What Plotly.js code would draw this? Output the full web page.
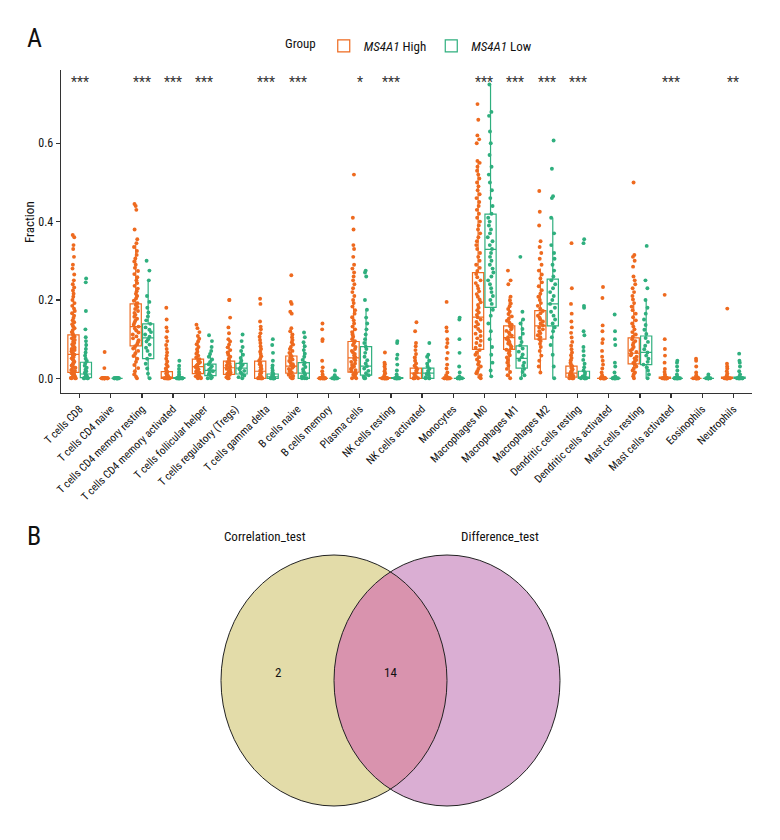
<!DOCTYPE html>
<html>
<head>
<meta charset="utf-8">
<script src="https://cdn.plot.ly/plotly-3.0.1.min.js"></script>
<style>
  html, body { margin: 0; padding: 0; background: #fff; }
  #chart { width: 780px; height: 840px; }
</style>
</head>
<body>
<div id="chart"></div>
<script>
// ---------------- DATA ----------------
const categories = ['T cells CD8','T cells CD4 naive','T cells CD4 memory resting','T cells CD4 memory activated',
  'T cells follicular helper','T cells regulatory (Tregs)','T cells gamma delta','B cells naive','B cells memory',
  'Plasma cells','NK cells resting','NK cells activated','Monocytes','Macrophages M0','Macrophages M1',
  'Macrophages M2','Dendritic cells resting','Dendritic cells activated','Mast cells resting',
  'Mast cells activated','Eosinophils','Neutrophils'];

const sigLabels = ['***','','***','***','***','','***','***','','*','***','','','***','***','***','***','','','***','','**'];

const groupNames = ['<i>MS4A1</i> High', '<i>MS4A1</i> Low'];

const highQ1     = [0.015,0,0.083,0,0.012,0.010,0,0.013,0,0.016,0,0,0,0.074,0.074,0.100,0.003,0,0.037,0,0,0];
const highMedian = [0.061,0,0.132,0.003,0.030,0.027,0.018,0.031,0,0.052,0,0.013,0,0.156,0.104,0.134,0.013,0,0.064,0,0,0];
const highQ3     = [0.111,0,0.190,0.017,0.049,0.044,0.044,0.057,0,0.094,0.002,0.026,0,0.270,0.134,0.173,0.031,0,0.103,0.003,0,0.003];
const highLower  = [0,0,0,0,0,0,0,0,0,0,0,0,0,0,0,0.015,0,0,0,0,0,0];
const highUpper  = [0.245,0,0.34,0.036,0.10,0.091,0.105,0.122,0,0.20,0.005,0.062,0,0.555,0.208,0.28,0.064,0,0.196,0.005,0,0.003];

const lowQ1     = [0.002,0,0.050,0,0.007,0.011,0,0,0,0.008,0,0,0,0.181,0.026,0.134,0,0,0.035,0,0,0];
const lowMedian = [0.011,0,0.103,0,0.020,0.026,0.004,0.013,0,0.031,0,0.013,0,0.329,0.051,0.190,0.003,0,0.066,0,0,0];
const lowQ3     = [0.041,0,0.139,0.002,0.036,0.038,0.011,0.040,0,0.081,0.002,0.026,0,0.419,0.083,0.253,0.018,0,0.108,0,0,0.003];
const lowLower  = [0,0,0,0,0,0,0,0,0,0,0,0,0,0.005,0,0,0,0,0,0,0,0];
const lowUpper  = [0.095,0,0.25,0.005,0.07,0.07,0.026,0.092,0,0.175,0.004,0.06,0,0.75,0.15,0.41,0.037,0,0.20,0,0,0.004];

const highPoints = [
  [0,0,0,0.001,0.003,0.005,0.007,0.009,0.011,0.013,0.015,0.017,0.019,0.021,0.024,0.027,0.03,0.033,0.036,0.039,0.042,0.045,0.048,0.051,0.054,0.057,0.06,0.063,0.066,0.069,0.072,0.075,0.078,0.081,0.084,0.087,0.09,0.094,0.098,0.102,0.106,0.11,0.114,0.118,0.123,0.128,0.133,0.138,0.143,0.148,0.154,0.16,0.166,0.172,0.178,0.185,0.192,0.2,0.208,0.216,0.224,0.232,0.24,0.25,0.265,0.28,0.29,0.31,0.33,0.34,0.36,0.366],
  [0,0,0,0,0,0,0,0,0,0,0,0,0,0,0.001,0.026,0.067],
  [0,0.004,0.01,0.018,0.026,0.034,0.042,0.05,0.057,0.064,0.07,0.076,0.082,0.087,0.092,0.097,0.102,0.107,0.112,0.117,0.122,0.127,0.132,0.137,0.142,0.147,0.152,0.157,0.162,0.167,0.172,0.177,0.182,0.187,0.192,0.198,0.204,0.21,0.216,0.222,0.229,0.236,0.243,0.25,0.258,0.266,0.274,0.282,0.29,0.298,0.306,0.315,0.325,0.335,0.345,0.355,0.38,0.43,0.44,0.445],
  [0,0,0,0,0,0,0,0,0,0,0,0.002,0.004,0.006,0.009,0.012,0.016,0.02,0.025,0.03,0.036,0.043,0.05,0.058,0.066,0.075,0.085,0.095,0.105,0.12,0.13,0.15,0.18],
  [0,0,0.002,0.005,0.008,0.011,0.014,0.017,0.02,0.023,0.026,0.029,0.032,0.035,0.038,0.041,0.045,0.049,0.053,0.058,0.063,0.068,0.074,0.08,0.087,0.094,0.101,0.108,0.118,0.128,0.137],
  [0,0,0.003,0.006,0.009,0.012,0.015,0.018,0.021,0.024,0.027,0.03,0.033,0.037,0.041,0.045,0.05,0.055,0.06,0.066,0.072,0.079,0.086,0.094,0.1,0.115,0.13,0.155,0.2,0.2],
  [0,0,0,0,0,0,0.002,0.005,0.008,0.011,0.014,0.017,0.02,0.024,0.028,0.032,0.036,0.04,0.045,0.05,0.056,0.062,0.068,0.075,0.082,0.09,0.098,0.106,0.115,0.125,0.132,0.145,0.19,0.203],
  [0,0,0.003,0.006,0.009,0.012,0.015,0.018,0.021,0.024,0.027,0.03,0.033,0.036,0.04,0.044,0.048,0.052,0.056,0.06,0.065,0.07,0.075,0.08,0.086,0.092,0.098,0.105,0.112,0.12,0.128,0.165,0.17,0.19,0.195,0.263],
  [0,0,0,0,0,0,0,0,0,0,0,0,0,0,0.002,0.005,0.01,0.018,0.028,0.045,0.095,0.1,0.125,0.14],
  [0,0,0.003,0.006,0.009,0.012,0.015,0.018,0.021,0.024,0.027,0.03,0.034,0.038,0.042,0.046,0.05,0.054,0.058,0.062,0.066,0.07,0.075,0.08,0.085,0.09,0.095,0.1,0.106,0.112,0.118,0.125,0.132,0.14,0.148,0.156,0.165,0.174,0.183,0.192,0.2,0.21,0.22,0.23,0.24,0.25,0.26,0.27,0.28,0.29,0.31,0.33,0.34,0.38,0.41,0.52],
  [0,0,0,0,0,0,0,0,0,0,0,0,0,0,0.002,0.005,0.009,0.013,0.018,0.024,0.03,0.036,0.04,0.066],
  [0,0,0,0,0.003,0.007,0.011,0.015,0.019,0.023,0.027,0.032,0.038,0.045,0.053,0.062,0.072,0.082,0.09,0.12,0.143],
  [0,0,0,0,0,0,0,0,0,0,0,0,0.003,0.008,0.015,0.025,0.035,0.05,0.065,0.08,0.09,0.1,0.12,0.13,0.195],
  [0,0.003,0.008,0.013,0.018,0.024,0.03,0.036,0.042,0.048,0.054,0.06,0.066,0.072,0.078,0.084,0.09,0.096,0.102,0.108,0.114,0.12,0.126,0.132,0.138,0.144,0.15,0.156,0.162,0.168,0.174,0.18,0.187,0.194,0.201,0.208,0.215,0.222,0.229,0.236,0.243,0.25,0.258,0.266,0.274,0.282,0.29,0.3,0.31,0.32,0.33,0.34,0.35,0.36,0.37,0.38,0.39,0.4,0.41,0.42,0.43,0.44,0.45,0.46,0.47,0.48,0.49,0.5,0.51,0.52,0.53,0.54,0.55,0.555,0.6,0.61,0.62,0.66,0.7],
  [0,0.008,0.016,0.024,0.032,0.04,0.047,0.053,0.059,0.064,0.069,0.073,0.077,0.081,0.085,0.089,0.093,0.097,0.101,0.105,0.109,0.113,0.117,0.121,0.125,0.129,0.133,0.137,0.142,0.147,0.152,0.158,0.164,0.17,0.177,0.184,0.191,0.199,0.208,0.24,0.25,0.275],
  [0.015,0.03,0.045,0.058,0.07,0.08,0.088,0.095,0.1,0.105,0.11,0.115,0.12,0.125,0.13,0.135,0.14,0.145,0.15,0.155,0.16,0.166,0.172,0.178,0.185,0.192,0.2,0.208,0.216,0.225,0.235,0.245,0.255,0.265,0.275,0.29,0.305,0.32,0.335,0.35,0.39,0.425,0.478],
  [0,0,0,0,0.002,0.004,0.006,0.008,0.01,0.012,0.014,0.017,0.02,0.023,0.027,0.031,0.035,0.04,0.046,0.052,0.059,0.066,0.074,0.083,0.093,0.104,0.116,0.13,0.145,0.165,0.19,0.23,0.345],
  [0,0,0,0,0,0,0,0,0,0,0,0,0.003,0.008,0.015,0.025,0.035,0.045,0.055,0.07,0.09,0.1,0.12,0.135,0.205,0.233],
  [0,0.005,0.01,0.015,0.02,0.025,0.03,0.035,0.039,0.043,0.047,0.051,0.055,0.059,0.063,0.067,0.071,0.075,0.08,0.085,0.09,0.095,0.1,0.106,0.112,0.118,0.125,0.132,0.14,0.148,0.156,0.165,0.174,0.183,0.192,0.201,0.21,0.22,0.23,0.24,0.25,0.26,0.285,0.3,0.31,0.315,0.5],
  [0,0,0,0,0,0,0,0,0,0,0,0,0,0,0.002,0.005,0.01,0.016,0.024,0.04,0.058,0.075,0.1,0.213],
  [0,0,0,0,0,0,0,0,0,0,0,0,0.003,0.008,0.015,0.03,0.045,0.05],
  [0,0,0,0,0,0,0,0,0,0,0,0,0.003,0.007,0.012,0.018,0.025,0.03,0.037,0.178]
];

const lowPoints = [
  [0,0,0,0,0.002,0.004,0.006,0.008,0.011,0.014,0.018,0.022,0.027,0.032,0.038,0.044,0.05,0.058,0.066,0.075,0.085,0.095,0.105,0.125,0.172,0.245,0.255],
  [0,0,0,0,0,0,0,0,0,0,0,0,0.001],
  [0,0.012,0.025,0.037,0.05,0.06,0.07,0.078,0.086,0.094,0.1,0.106,0.112,0.118,0.124,0.13,0.139,0.148,0.158,0.168,0.18,0.195,0.21,0.25,0.275,0.3],
  [0,0,0,0,0,0,0,0,0,0,0,0,0,0,0.002,0.005,0.01,0.016,0.024,0.032,0.045],
  [0,0,0.003,0.007,0.01,0.014,0.018,0.022,0.026,0.031,0.036,0.042,0.048,0.055,0.062,0.07,0.08,0.095,0.11],
  [0,0.003,0.007,0.011,0.015,0.019,0.023,0.027,0.031,0.035,0.039,0.045,0.052,0.06,0.07,0.08,0.095,0.112],
  [0,0,0,0,0,0,0,0,0.002,0.004,0.007,0.011,0.015,0.02,0.026,0.033,0.045,0.065,0.085,0.1],
  [0,0,0,0.002,0.005,0.009,0.013,0.018,0.023,0.029,0.035,0.04,0.047,0.055,0.063,0.072,0.082,0.092,0.105,0.117],
  [0,0,0,0,0,0,0,0,0,0,0,0,0.003,0.008,0.02],
  [0,0,0.004,0.008,0.013,0.019,0.025,0.031,0.038,0.046,0.055,0.065,0.075,0.081,0.09,0.1,0.112,0.125,0.14,0.155,0.175,0.2,0.26,0.27,0.275],
  [0,0,0,0,0,0,0,0,0,0,0.004,0.01,0.02,0.035,0.05,0.06,0.09,0.095],
  [0,0,0,0.003,0.007,0.011,0.015,0.019,0.024,0.03,0.037,0.045,0.055,0.06,0.09],
  [0,0,0,0,0,0,0,0,0,0,0.005,0.015,0.03,0.065,0.1,0.15,0.155],
  [0.005,0.02,0.04,0.06,0.08,0.1,0.12,0.14,0.16,0.175,0.19,0.2,0.21,0.22,0.23,0.24,0.25,0.26,0.27,0.28,0.29,0.3,0.31,0.32,0.33,0.34,0.35,0.36,0.37,0.38,0.39,0.4,0.41,0.42,0.44,0.46,0.48,0.5,0.52,0.54,0.57,0.6,0.63,0.67,0.68,0.75],
  [0,0.008,0.016,0.024,0.032,0.04,0.047,0.054,0.061,0.068,0.076,0.084,0.093,0.103,0.114,0.126,0.14,0.15,0.17,0.31],
  [0,0.03,0.06,0.085,0.105,0.12,0.13,0.14,0.15,0.16,0.17,0.18,0.19,0.2,0.21,0.22,0.23,0.24,0.25,0.26,0.275,0.29,0.305,0.32,0.34,0.37,0.41,0.46,0.465,0.535,0.607],
  [0,0,0,0,0,0,0.002,0.005,0.009,0.014,0.02,0.028,0.037,0.047,0.058,0.07,0.08,0.11,0.12,0.18,0.185,0.345,0.355],
  [0,0,0,0,0,0,0,0,0,0,0.005,0.015,0.03,0.04,0.085,0.1,0.12,0.163],
  [0,0.01,0.02,0.028,0.035,0.042,0.05,0.058,0.066,0.074,0.083,0.093,0.103,0.113,0.124,0.136,0.15,0.165,0.18,0.2,0.23,0.25,0.338],
  [0,0,0,0,0,0,0,0,0,0,0,0,0.004,0.01,0.02,0.03,0.04,0.045],
  [0,0,0,0,0,0,0,0,0,0,0.004,0.01],
  [0,0,0,0,0,0,0,0,0,0,0.004,0.01,0.018,0.03,0.04,0.045,0.063]
];

const vennSetNames = ['Correlation_test', 'Difference_test'];
const vennOnlyFirst = 2;
const vennBoth = 14;

// ---------------- STYLE ----------------
const FONT = '"Roboto Condensed", "DejaVu Sans Condensed", sans-serif';
const colHigh = '#EE6A1F';
const colLow = '#2FAF7E';
const axisCol = '#333333';
const textCol = '#111111';

function flatten(pointsArr) {
  const xs = [], ys = [];
  pointsArr.forEach((vals, i) => vals.forEach(v => { xs.push(categories[i]); ys.push(v); }));
  return {xs, ys};
}

function statBox(name, color, q1, med, q3, lo, hi, group) {
  return {
    type: 'box', name: name, x: categories,
    q1: q1, median: med, q3: q3, lowerfence: lo, upperfence: hi,
    boxpoints: false, offsetgroup: group, xaxis: 'x', yaxis: 'y',
    line: {color: color, width: 1.2}, fillcolor: 'rgba(255,255,255,0)',
    whiskerwidth: 0, hoverinfo: 'skip', legendgroup: group
  };
}

function pointBox(name, color, pts, group) {
  const f = flatten(pts);
  return {
    type: 'box', name: name, x: f.xs, y: f.ys,
    boxpoints: 'all', jitter: 0.55, pointpos: 0, offsetgroup: group, xaxis: 'x', yaxis: 'y',
    line: {color: 'rgba(0,0,0,0)', width: 0}, fillcolor: 'rgba(0,0,0,0)',
    marker: {color: color, size: 3.9, opacity: 1},
    whiskerwidth: 0, hoverinfo: 'skip', showlegend: false, legendgroup: group
  };
}

const traces = [
  pointBox(groupNames[0], colHigh, highPoints, 'high'),
  pointBox(groupNames[1], colLow, lowPoints, 'low'),
  statBox(groupNames[0], colHigh, highQ1, highMedian, highQ3, highLower, highUpper, 'high'),
  statBox(groupNames[1], colLow, lowQ1, lowMedian, lowQ3, lowLower, lowUpper, 'low')
];

const W = 780, H = 840;
const mL = 61, mR = 28, mT = 70, mB = 10;
const plotH = H - mT - mB;
const plotBottomPx = 393;
const vennTopPx = 540;
const pyToPaper = py => (H - mB - py) / plotH;
const pxToPaper = px => (px - mL) / (W - mL - mR);

const annotations = [];
categories.forEach((c, i) => {
  if (sigLabels[i]) {
    annotations.push({x: c, y: 0.757, xref: 'x', yref: 'y', text: sigLabels[i], showarrow: false,
      font: {family: FONT, size: 14, color: '#333'}, xanchor: 'center', yanchor: 'middle'});
  }
});
annotations.push({x: pxToPaper(34), y: pyToPaper(38), xref: 'paper', yref: 'paper', text: 'A',
  showarrow: false, font: {family: FONT, size: 26, color: textCol}, xanchor: 'center', yanchor: 'middle'});
annotations.push({x: pxToPaper(34), y: pyToPaper(536), xref: 'paper', yref: 'paper', text: 'B',
  showarrow: false, font: {family: FONT, size: 26, color: textCol}, xanchor: 'center', yanchor: 'middle'});
annotations.push({x: pxToPaper(30), y: pyToPaper(222), xref: 'paper', yref: 'paper', text: 'Fraction',
  textangle: -90, showarrow: false, font: {family: FONT, size: 13, color: textCol}, xanchor: 'center', yanchor: 'middle'});

// Venn geometry (venn axes units = pixels)
const vCy = 680.5, vRx = 113, vRy = 125.5;
const vCxL = 334, vCxR = vCxL + vRx;

function ellipseArc(cx, cy, rx, ry, a1, a2, nSeg, start) {
  let d = '';
  const step = (a2 - a1) / nSeg;
  const k = 4 / 3 * Math.tan(step / 4);
  for (let s = 0; s < nSeg; s++) {
    const t1 = a1 + s * step, t2 = t1 + step;
    const p0 = [Math.cos(t1), Math.sin(t1)], p3 = [Math.cos(t2), Math.sin(t2)];
    const p1 = [p0[0] - k * Math.sin(t1), p0[1] + k * Math.cos(t1)];
    const p2 = [p3[0] + k * Math.sin(t2), p3[1] - k * Math.cos(t2)];
    const m = p => (cx + rx * p[0]).toFixed(2) + ',' + (cy + ry * p[1]).toFixed(2);
    if (s === 0 && start) d += 'M' + m(p0) + ' ';
    d += 'C' + m(p1) + ' ' + m(p2) + ' ' + m(p3) + ' ';
  }
  return d;
}
const ang = Math.PI / 3;
const lensPath = ellipseArc(vCxL, vCy, vRx, vRy, -ang, ang, 2, true) +
                 ellipseArc(vCxR, vCy, vRx, vRy, Math.PI - ang, Math.PI + ang, 2, false) + 'Z';

const shapes = [
  {type: 'circle', xref: 'x2', yref: 'y2', x0: vCxL - vRx, x1: vCxL + vRx, y0: vCy - vRy, y1: vCy + vRy,
    fillcolor: '#E3DCA9', line: {width: 0}},
  {type: 'circle', xref: 'x2', yref: 'y2', x0: vCxR - vRx, x1: vCxR + vRx, y0: vCy - vRy, y1: vCy + vRy,
    fillcolor: '#DAAED3', line: {width: 0}},
  {type: 'path', xref: 'x2', yref: 'y2', path: lensPath, fillcolor: '#D993AE', line: {width: 0}},
  {type: 'circle', xref: 'x2', yref: 'y2', x0: vCxL - vRx, x1: vCxL + vRx, y0: vCy - vRy, y1: vCy + vRy,
    fillcolor: 'rgba(0,0,0,0)', line: {color: '#222', width: 1}},
  {type: 'circle', xref: 'x2', yref: 'y2', x0: vCxR - vRx, x1: vCxR + vRx, y0: vCy - vRy, y1: vCy + vRy,
    fillcolor: 'rgba(0,0,0,0)', line: {color: '#222', width: 1}}
];

annotations.push({x: pxToPaper(265), y: pyToPaper(536), xref: 'paper', yref: 'paper', text: vennSetNames[0], showarrow: false,
  font: {family: FONT, size: 13, color: textCol}, xanchor: 'center', yanchor: 'middle'});
annotations.push({x: pxToPaper(500), y: pyToPaper(536), xref: 'paper', yref: 'paper', text: vennSetNames[1], showarrow: false,
  font: {family: FONT, size: 13, color: textCol}, xanchor: 'center', yanchor: 'middle'});
annotations.push({x: (vCxL - vRx + vCxR - vRx) / 2, y: vCy - 8, xref: 'x2', yref: 'y2', text: String(vennOnlyFirst),
  showarrow: false, font: {family: FONT, size: 13, color: textCol}, xanchor: 'center', yanchor: 'middle'});
annotations.push({x: (vCxR - vRx + vCxL + vRx) / 2, y: vCy - 8, xref: 'x2', yref: 'y2', text: String(vennBoth),
  showarrow: false, font: {family: FONT, size: 13, color: textCol}, xanchor: 'center', yanchor: 'middle'});

const layout = {
  width: W, height: H,
  margin: {l: mL, r: mR, t: mT, b: mB, pad: 0},
  paper_bgcolor: '#fff', plot_bgcolor: 'rgba(0,0,0,0)',
  font: {family: FONT, size: 12, color: textCol},
  boxmode: 'group', boxgap: 0.2, boxgroupgap: 0.1,
  showlegend: true,
  legend: {
    orientation: 'h', x: pxToPaper(410), xanchor: 'center', y: pyToPaper(46), yanchor: 'middle',
    title: {text: 'Group', side: 'left', font: {family: FONT, size: 13, color: textCol}},
    font: {family: FONT, size: 13, color: textCol}, bgcolor: 'rgba(0,0,0,0)', itemwidth: 30,
    traceorder: 'normal'
  },
  xaxis: {
    type: 'category', domain: [0, 1], anchor: 'y', range: [-0.6, 21.6],
    showline: true, linecolor: axisCol, linewidth: 1.3,
    ticks: 'outside', ticklen: 4, tickwidth: 1.2, tickcolor: axisCol,
    tickangle: -45, tickfont: {family: FONT, size: 11, color: textCol},
    showgrid: false, zeroline: false, automargin: false, fixedrange: true
  },
  yaxis: {
    domain: [pyToPaper(plotBottomPx), 1], anchor: 'x', range: [-0.0375, 0.787],
    tickvals: [0, 0.2, 0.4, 0.6], tickformat: '.1f',
    showline: true, linecolor: axisCol, linewidth: 1.3,
    ticks: 'outside', ticklen: 4, tickwidth: 1.2, tickcolor: axisCol,
    tickfont: {family: FONT, size: 12, color: textCol},
    showgrid: false, zeroline: false, automargin: false, fixedrange: true
  },
  xaxis2: {domain: [0, 1], anchor: 'y2', range: [mL, W - mR], visible: false, fixedrange: true},
  yaxis2: {domain: [0, pyToPaper(vennTopPx)], anchor: 'x2', range: [H - mB, vennTopPx], visible: false, fixedrange: true},
  shapes: shapes,
  annotations: annotations
};

Plotly.newPlot('chart', traces, layout, {displayModeBar: false, staticPlot: true});
</script>
</body>
</html>
